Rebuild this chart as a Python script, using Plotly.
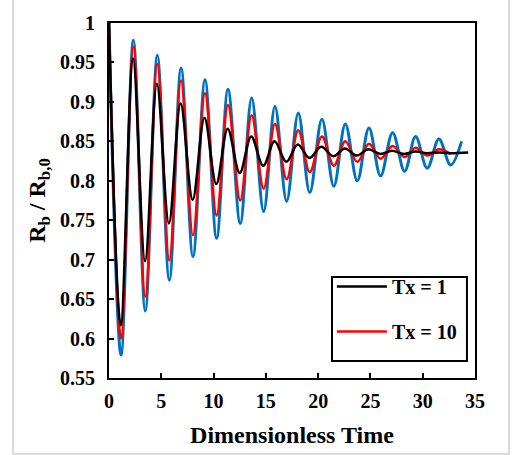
import plotly.graph_objects as go

# Extremum points (time, Rb/Rb0)
t_blue = [0, 1.15, 2.33, 3.47, 4.62, 5.77, 6.89, 8.03, 9.18, 10.29, 11.38, 12.55, 13.64,
          14.79, 15.87, 16.99, 18.1, 19.2, 20.36, 21.5, 22.6, 23.74, 24.86, 25.97, 27.12,
          28.27, 29.32, 30.43, 31.55, 32.67, 33.72]
v_blue = [1.0, 0.579, 0.978, 0.635, 0.959, 0.674, 0.943, 0.704, 0.928, 0.727, 0.916, 0.746,
          0.905, 0.761, 0.894, 0.774, 0.886, 0.785, 0.878, 0.793, 0.872, 0.800, 0.867, 0.806,
          0.861, 0.812, 0.856, 0.816, 0.853, 0.820, 0.850]

t_red = [0, 1.15, 2.33, 3.47, 4.62, 5.77, 6.89, 8.03, 9.18, 10.29, 11.38, 12.55, 13.64,
         14.79, 15.87, 16.99, 18.1, 19.2, 20.36, 21.5, 22.6, 23.74, 24.86, 25.97, 27.12,
         28.27, 29.32, 30.43, 31.55, 32.67]
v_red = [1.0, 0.600, 0.970, 0.653, 0.948, 0.699, 0.927, 0.731, 0.911, 0.756, 0.896, 0.775,
         0.883, 0.790, 0.872, 0.802, 0.864, 0.811, 0.856, 0.819, 0.850, 0.824, 0.847, 0.828,
         0.844, 0.830, 0.842, 0.832, 0.840, 0.834]

t_black = [0, 1.12, 2.3, 3.45, 4.58, 5.73, 6.85, 8.0, 9.13, 10.26, 11.35, 12.5, 13.6,
           14.75, 15.83, 16.95, 18.05, 19.17, 20.3, 21.45, 22.55, 23.7, 24.8, 25.95, 27.05,
           28.2, 29.3, 30.4, 31.5, 32.6, 34.35]
v_black = [1.0, 0.617, 0.955, 0.698, 0.923, 0.746, 0.898, 0.776, 0.880, 0.796, 0.866, 0.810,
           0.856, 0.819, 0.850, 0.824, 0.846, 0.829, 0.843, 0.831, 0.841, 0.832, 0.840, 0.834,
           0.838, 0.834, 0.837, 0.835, 0.836, 0.835, 0.836]

x_ticks = [0, 5, 10, 15, 20, 25, 30, 35]
y_ticks = [0.55, 0.6, 0.65, 0.7, 0.75, 0.8, 0.85, 0.9, 0.95, 1]
y_tick_labels = ["0.55", "0.6", "0.65", "0.7", "0.75", "0.8", "0.85", "0.9", "0.95", "1"]

FONT = "Liberation Serif"

fig = go.Figure()
fig.add_trace(go.Scatter(x=t_blue, y=v_blue, mode="lines", name="Tx = 100",
                         line=dict(color="#0070c0", width=3, shape="spline", smoothing=1.0),
                         showlegend=False, legendgroup="c"))
fig.add_trace(go.Scatter(x=t_red, y=v_red, mode="lines", name="Tx = 10",
                         line=dict(color="#ff0000", width=2.5, shape="spline", smoothing=1.0),
                         legendrank=2, legendgroup="b"))
fig.add_trace(go.Scatter(x=t_black, y=v_black, mode="lines", name="Tx = 1",
                         line=dict(color="#000000", width=2.5, shape="spline", smoothing=1.0),
                         legendrank=1, legendgroup="a"))

axis_common = dict(showline=True, linecolor="black", linewidth=2, mirror=True,
                   ticks="inside", ticklen=5, tickwidth=1.5, tickcolor="black",
                   showgrid=False, zeroline=False,
                   tickfont=dict(family=FONT, size=20, color="black", weight="bold"))

fig.update_xaxes(range=[0, 35], tickvals=x_ticks, ticktext=[str(v) for v in x_ticks],
                 ticklabelstandoff=4,
                 title=dict(text="<b>Dimensionless Time</b>", standoff=15,
                            font=dict(family=FONT, size=24, color="black")),
                 **axis_common)
fig.update_yaxes(range=[0.55, 1], tickvals=y_ticks, ticktext=y_tick_labels,
                 ticklabelstandoff=8,
                 title=dict(text="<b>R<sub>b</sub> / R<sub>b,0</sub></b>", standoff=8,
                            font=dict(family=FONT, size=24, color="black")),
                 **axis_common)

# outer chart-area border
fig.add_shape(type="rect", xref="paper", yref="paper", x0=-0.2623, x1=1.0929,
              y0=-0.214, y1=1.1, line=dict(color="#cfcfcf", width=1.5), layer="below")
# legend frame
fig.add_shape(type="rect", xref="paper", yref="paper", x0=0.6093, x1=0.978,
              y0=0.0479, y1=0.2845, fillcolor="white",
              line=dict(color="black", width=2), layer="above")

fig.update_layout(
    width=512, height=455,
    margin=dict(l=109, r=37, t=23, b=77),
    paper_bgcolor="white", plot_bgcolor="white",
    legend=dict(x=0.609, y=0.3127, xanchor="left", yanchor="top",
                bgcolor="rgba(0,0,0,0)", borderwidth=0, traceorder="grouped",
                font=dict(family=FONT, size=20, color="black", weight="bold"),
                tracegroupgap=16, itemwidth=50),
)

fig.write_html("out.html", config={"displayModeBar": False},
               post_script="document.body.style.margin='0px';")
